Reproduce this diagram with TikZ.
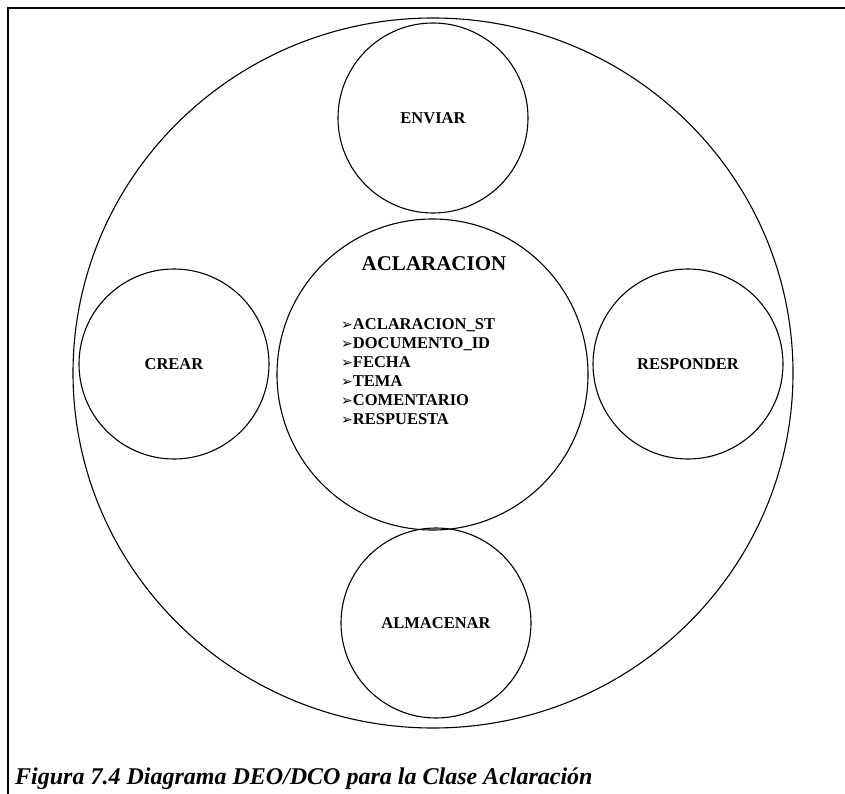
\documentclass[tikz,border=0pt]{standalone}
\usepackage{fontspec}
\setmainfont{Liberation Serif}
\newfontfamily\symfont{DejaVu Sans}
\usetikzlibrary{shapes.geometric}
\tikzset{
  ring/.style={draw, line width=1.1pt},
  proc/.style={ring, circle, minimum size=190pt, inner sep=0pt,
    font=\fontsize{16.5}{19}\selectfont\bfseries},
  attr/.style={inner sep=0pt, align=left,
    font=\fontsize{16.5}{19}\selectfont\bfseries}
}
\newcommand{\bul}{{\symfont\fontsize{14}{14}\selectfont ➢}}
\begin{document}
\begin{tikzpicture}[x=1pt,y=-1pt]
\useasboundingbox (0,0) rectangle (845,794);
\draw[line width=1.4pt] (8,794) -- (8,8) -- (845,8);
\node[ring, ellipse, minimum width=720pt, minimum height=710pt, inner sep=0pt] (sistema) at (433,373) {};
\node[proc] (enviar) at (433,118) {ENVIAR};
\node[proc] (crear) at (174,364) {CREAR};
\node[proc] (responder) at (688,364) {RESPONDER};
\node[proc] (almacenar) at (436,623) {ALMACENAR};
\node[ring, circle, minimum size=311pt, inner sep=0pt] (clase) at (432.5,374.5) {};
\node[anchor=base, inner sep=0pt, font=\fontsize{21}{24}\selectfont\bfseries] (titulo) at (434,270) {ACLARACION};
\node[attr, anchor=north west] (atributos) at (341,318) {\bul ACLARACION\_ST\\ \bul DOCUMENTO\_ID\\ \bul FECHA\\ \bul TEMA\\ \bul COMENTARIO\\ \bul RESPUESTA};
\node[anchor=base west, inner sep=0pt, font=\fontsize{24}{28}\selectfont\bfseries\itshape] (pie) at (15,784) {Figura 7.4 Diagrama DEO/DCO para la Clase Aclaración};
\end{tikzpicture}
\end{document}
